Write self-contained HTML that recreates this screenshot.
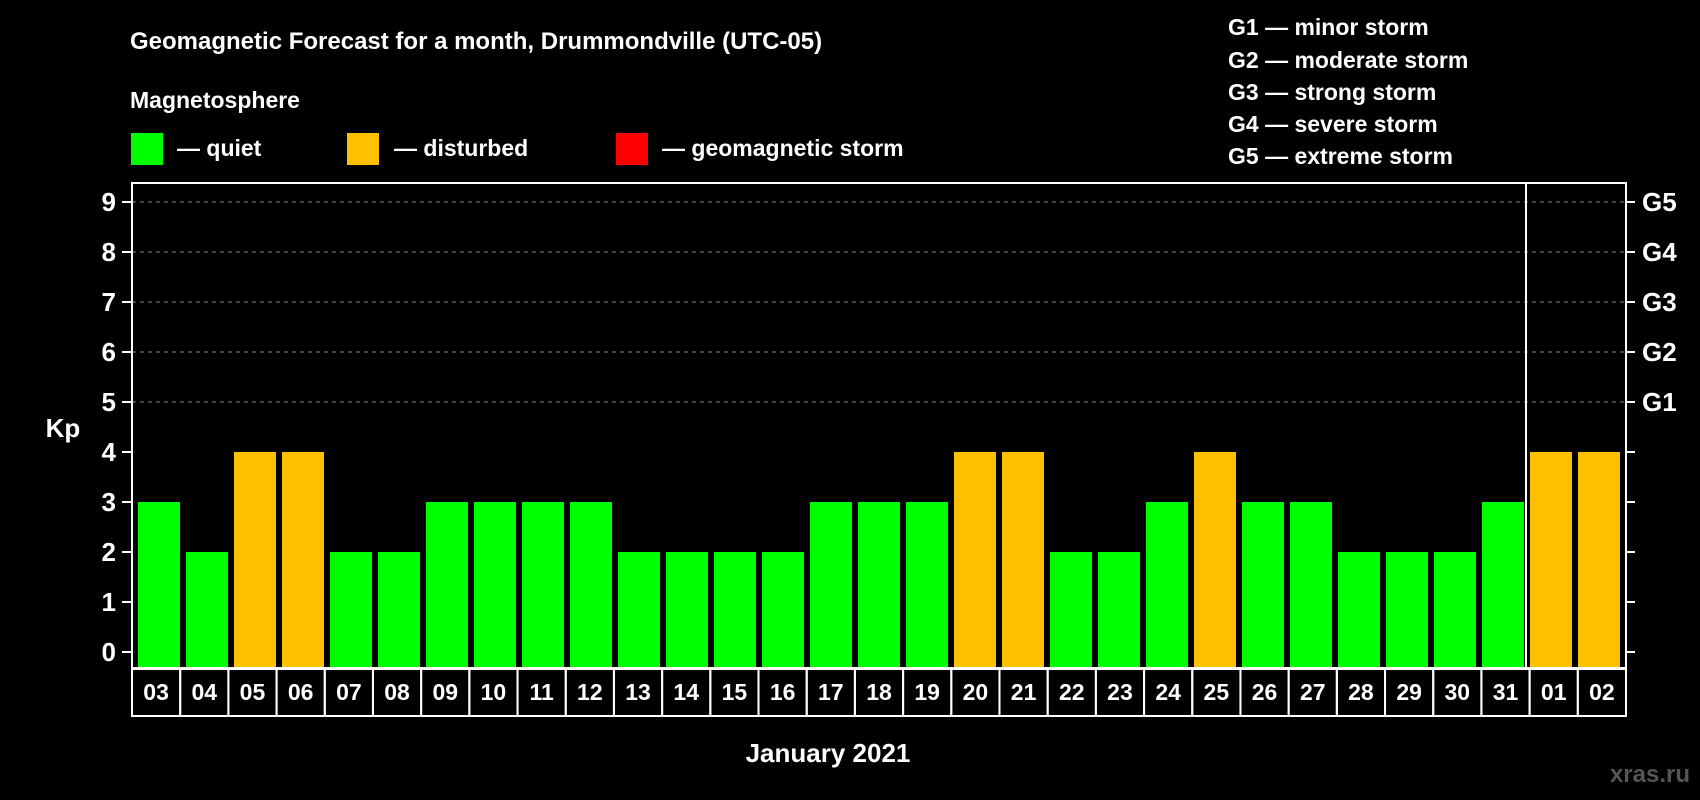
<!DOCTYPE html>
<html><head><meta charset="utf-8"><style>
body{margin:0;background:#000;}
svg{display:block;font-family:"Liberation Sans",Arial,sans-serif;font-weight:bold;}
</style></head><body>
<svg id="chart" width="1700" height="800" viewBox="0 0 1700 800">
<rect width="1700" height="800" fill="#000"/>
<text x="130" y="49" fill="#fff" font-size="24">Geomagnetic Forecast for a month, Drummondville (UTC-05)</text>
<text x="130" y="108" fill="#fff" font-size="23">Magnetosphere</text>
<rect x="131" y="133" width="32" height="32" fill="#00ff00"/>
<text x="177" y="156" fill="#fff" font-size="23">— quiet</text>
<rect x="347" y="133" width="32" height="32" fill="#ffc000"/>
<text x="394" y="156" fill="#fff" font-size="23">— disturbed</text>
<rect x="616" y="133" width="32" height="32" fill="#ff0000"/>
<text x="662" y="156" fill="#fff" font-size="23">— geomagnetic storm</text>
<g font-size="23" fill="#fff">
<text x="1228" y="35">G1 — minor storm</text>
<text x="1228" y="68">G2 — moderate storm</text>
<text x="1228" y="100">G3 — strong storm</text>
<text x="1228" y="132">G4 — severe storm</text>
<text x="1228" y="164">G5 — extreme storm</text>
</g>
<text x="63" y="437" fill="#fff" font-size="26" text-anchor="middle">Kp</text>
<text x="828" y="762" fill="#fff" font-size="26" text-anchor="middle">January 2021</text>
<text x="1690" y="782" fill="#555" font-size="24" text-anchor="end">xras.ru</text>
<g id="grid"></g><g id="bars"></g><g id="axes"></g>
</svg>
<script>
const labels=["03","04","05","06","07","08","09","10","11","12","13","14","15","16","17","18","19","20","21","22","23","24","25","26","27","28","29","30","31","01","02"];
const kpValues=[3,2,4,4,2,2,3,3,3,3,2,2,2,2,3,3,3,4,4,2,2,3,4,3,3,2,2,2,3,4,4];
const yTicks=[0,1,2,3,4,5,6,7,8,9];
const gLabels=["G1","G2","G3","G4","G5"];
const NS="http://www.w3.org/2000/svg";
const L=132,R=1626,T=183,B=668;
const y=v=>652-v*50;
const step=48;
const bx=i=>138+i*step;
function mk(tag,attrs,parent){const e=document.createElementNS(NS,tag);for(const k in attrs)e.setAttribute(k,attrs[k]);document.getElementById(parent).appendChild(e);return e;}
yTicks.forEach(v=>{
  if(v>=5){const g=mk('line',{x1:L,x2:R,y1:y(v),y2:y(v),stroke:'#888','stroke-dasharray':'4,4','stroke-width':1},'grid');
  
  }
  const t=mk('line',{x1:L-10,x2:L,y1:y(v),y2:y(v),stroke:'#fff','stroke-width':2},'axes');
  
  
  const t2=mk('line',{x1:R,x2:R+9,y1:y(v),y2:y(v),stroke:'#fff','stroke-width':2},'axes');
  
  
  const tx=mk('text',{x:L-16,y:y(v)+9,fill:'#fff','font-size':26,'text-anchor':'end'},'axes');
  tx.textContent=v;
  
  
});
gLabels.forEach((g,i)=>{
  const tx=mk('text',{x:R+16,y:y(5+i)+9,fill:'#fff','font-size':26},'axes');
  tx.textContent=g;
  
  
});
kpValues.forEach((v,i)=>{
  const r=mk('rect',{x:bx(i),y:y(v),width:42,height:B-y(v),fill:v>=5?'#ff0000':(v>=4?'#ffc000':'#00ff00')},'bars');
  
  
  const c=mk('rect',{x:L+i*(R-L)/31,y:669,width:(R-L)/31,height:47,fill:'none',stroke:'#fff','stroke-width':2},'axes');
  
  
  const t=mk('text',{x:L+(i+0.5)*(R-L)/31,y:700,fill:'#fff','font-size':23,'text-anchor':'middle'},'axes');
  t.textContent=labels[i];
  
  
});
const fr=mk('rect',{x:L,y:T,width:R-L,height:B-T,fill:'none',stroke:'#fff','stroke-width':2},'axes');


const sx=bx(29)-4;
const sep=mk('line',{x1:sx,x2:sx,y1:T,y2:B,stroke:'#fff','stroke-width':2},'axes');


</script>
</body></html>
